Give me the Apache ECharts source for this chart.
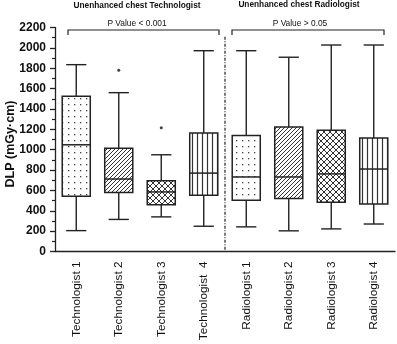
<!DOCTYPE html>
<html>
<head>
<meta charset="utf-8">
<script src="https://cdn.jsdelivr.net/npm/echarts@6/dist/echarts.min.js"></script>
<style>
  html, body { margin: 0; padding: 0; background: #fff; }
  #box { width: 397px; height: 344px; }
</style>
</head>
<body>
<div id="box"></div>
<script>
var categories = ['Technologist 1', 'Technologist 2', 'Technologist 3', 'Technologist  4',
                  'Radiologist 1', 'Radiologist 2', 'Radiologist 3', 'Radiologist 4'];
var mins    = [205, 315, 340, 248, 242, 203, 222, 270];
var q1s     = [542, 580, 458, 552, 503, 520, 484, 467];
var medians = [1048, 712, 585, 770, 732, 732, 762, 810];
var q3s     = [1525, 1013, 696, 1163, 1140, 1222, 1190, 1114];
var maxs    = [1835, 1560, 950, 1972, 1972, 1908, 2028, 2028];
var outliers = [[1, 1780], [2, 1215]];
var yTicks = { min: 0, max: 2200, interval: 200 };

// fill patterns drawn on small canvases
function makePattern(kind) {
  var c = document.createElement('canvas');
  var s = kind === 'diag' ? 4 : (kind === 'vert' ? 5 : 6);
  c.width = s; c.height = s;
  var g = c.getContext('2d');
  g.fillStyle = '#fff';
  g.fillRect(0, 0, s, s);
  g.strokeStyle = '#333';
  g.fillStyle = '#444';
  g.lineWidth = 1;
  if (kind === 'dots') {
    g.fillRect(2, 2, 1.3, 1.3);
  } else if (kind === 'diag') {
    g.beginPath();
    g.moveTo(-1, s + 1); g.lineTo(s + 1, -1);
    g.moveTo(-1, 1); g.lineTo(1, -1);
    g.moveTo(s - 1, s + 1); g.lineTo(s + 1, s - 1);
    g.stroke();
  } else if (kind === 'cross') {
    g.beginPath();
    g.moveTo(-1, s + 1); g.lineTo(s + 1, -1);
    g.moveTo(-1, 1); g.lineTo(1, -1);
    g.moveTo(s - 1, s + 1); g.lineTo(s + 1, s - 1);
    g.moveTo(-1, -1); g.lineTo(s + 1, s + 1);
    g.stroke();
  } else if (kind === 'vert') {
    g.lineWidth = 1.2;
    g.beginPath();
    g.moveTo(2.5, 0); g.lineTo(2.5, s);
    g.stroke();
  }
  return { image: c, repeat: 'repeat' };
}
var kinds = ['dots', 'diag', 'cross', 'vert', 'dots', 'diag', 'cross', 'vert'];
var patterns = kinds.map(makePattern);

var boxData = categories.map(function (c, i) {
  return [i, mins[i], q1s[i], medians[i], q3s[i], maxs[i]];
});

function renderBox(params, api) {
  var x = api.value(0);
  var pMin = api.coord([x, api.value(1)]);
  var pQ1 = api.coord([x, api.value(2)]);
  var pMed = api.coord([x, api.value(3)]);
  var pQ3 = api.coord([x, api.value(4)]);
  var pMax = api.coord([x, api.value(5)]);
  var half = api.size([1, 0])[0] * 0.33;
  var cap = half * 0.72;
  var cx = pMin[0];
  var line = { stroke: '#222', lineWidth: 1.4 };
  return {
    type: 'group',
    children: [
      { type: 'line', shape: { x1: cx, y1: pQ3[1], x2: cx, y2: pMax[1] }, style: line },
      { type: 'line', shape: { x1: cx - cap, y1: pMax[1], x2: cx + cap, y2: pMax[1] }, style: line },
      { type: 'line', shape: { x1: cx, y1: pQ1[1], x2: cx, y2: pMin[1] }, style: line },
      { type: 'line', shape: { x1: cx - cap, y1: pMin[1], x2: cx + cap, y2: pMin[1] }, style: line },
      { type: 'rect', shape: { x: cx - half, y: pQ3[1], width: half * 2, height: pQ1[1] - pQ3[1] },
        style: { fill: patterns[params.dataIndex], stroke: '#222', lineWidth: 1.5 } },
      { type: 'line', shape: { x1: cx - half, y1: pMed[1], x2: cx + half, y2: pMed[1] },
        style: { stroke: '#222', lineWidth: 1.5 } }
    ]
  };
}

function renderDivider(params, api) {
  var a = api.coord([3, 0]);
  var b = api.coord([4, 0]);
  var top = api.coord([3, 2110]);
  var x = (a[0] + b[0]) / 2;
  return {
    type: 'line',
    shape: { x1: x, y1: top[1], x2: x, y2: a[1] },
    style: { stroke: '#222', lineWidth: 1.2, lineDash: [3, 1.5, 1, 1.5] }
  };
}

var chart = echarts.init(document.getElementById('box'));
var font = '"Liberation Sans", Arial, sans-serif';
var option = {
  animation: false,
  grid: { left: 55, right: 2, top: 27.5, bottom: 92.5, outerBoundsMode: 'none', containLabel: false },
  xAxis: {
    type: 'category',
    data: categories,
    axisLine: { lineStyle: { color: '#222', width: 1.3 } },
    axisTick: { alignWithLabel: true, length: 5, lineStyle: { color: '#222', width: 1.3 } },
    axisLabel: { rotate: 90, margin: 10, color: '#111', fontSize: 11.8, fontFamily: font }
  },
  yAxis: {
    type: 'value',
    min: yTicks.min,
    max: yTicks.max,
    interval: yTicks.interval,
    axisLine: { show: true, lineStyle: { color: '#222', width: 1.3 } },
    axisTick: { show: true, length: 5, lineStyle: { color: '#222', width: 1.3 } },
    minorTick: { show: true, splitNumber: 2, length: 3, lineStyle: { color: '#222', width: 1.2 } },
    splitLine: { show: false },
    axisLabel: { margin: 9, color: '#111', fontSize: 12, fontWeight: 'bold', fontFamily: font,
      formatter: function (v) { return String(v); } }
  },
  graphic: [
    { type: 'text', x: 11, y: 144, rotation: Math.PI / 2, style: { text: 'DLP (mGy·cm)', fill: '#111',
      font: 'bold 12.5px ' + font, align: 'center', verticalAlign: 'middle' } },
    { type: 'text', x: 137, y: 6, style: { text: 'Unenhanced chest Technologist', fill: '#111',
      font: 'bold 8.3px ' + font, align: 'center', verticalAlign: 'middle' } },
    { type: 'text', x: 299, y: 5, style: { text: 'Unenhanced chest Radiologist', fill: '#111',
      font: 'bold 8.3px ' + font, align: 'center', verticalAlign: 'middle' } },
    { type: 'text', x: 137, y: 23.5, style: { text: 'P Value < 0.001', fill: '#111',
      font: '8.4px ' + font, align: 'center', verticalAlign: 'middle' } },
    { type: 'text', x: 300, y: 23.5, style: { text: 'P Value > 0.05', fill: '#111',
      font: '8.4px ' + font, align: 'center', verticalAlign: 'middle' } },
    { type: 'polyline', shape: { points: [[68, 35], [68, 30], [219, 30], [219, 35]] },
      style: { stroke: '#222', lineWidth: 1.2, fill: null } },
    { type: 'polyline', shape: { points: [[232, 35], [232, 30], [384, 30], [384, 35]] },
      style: { stroke: '#222', lineWidth: 1.2, fill: null } }
  ],
  series: [
    {
      type: 'custom',
      renderItem: renderDivider,
      data: [[3]],
      encode: { x: 0 },
      silent: true
    },
    {
      type: 'custom',
      renderItem: renderBox,
      data: boxData,
      encode: { x: 0, y: [1, 2, 3, 4, 5] }
    },
    {
      type: 'scatter',
      data: outliers,
      symbolSize: 3,
      itemStyle: { color: '#111' }
    }
  ]
};
chart.setOption(option);
</script>
</body>
</html>
